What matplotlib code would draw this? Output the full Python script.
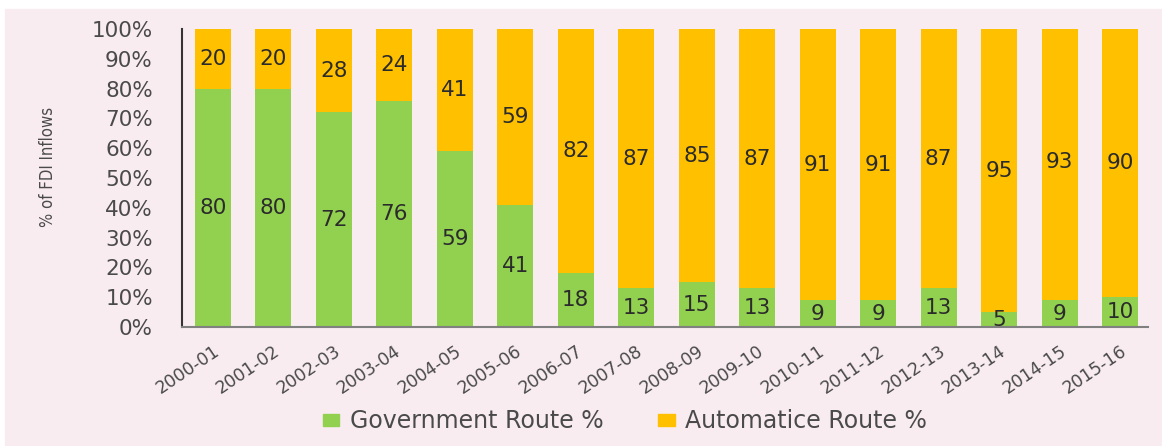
import matplotlib
matplotlib.use("Agg")
import matplotlib.pyplot as plt
from matplotlib.patches import Rectangle, Patch

years = ["2000-01", "2001-02", "2002-03", "2003-04", "2004-05", "2005-06",
         "2006-07", "2007-08", "2008-09", "2009-10", "2010-11", "2011-12",
         "2012-13", "2013-14", "2014-15", "2015-16"]
govt = [80, 80, 72, 76, 59, 41, 18, 13, 15, 13, 9, 9, 13, 5, 9, 10]
auto = [20, 20, 28, 24, 41, 59, 82, 87, 85, 87, 91, 91, 87, 95, 93, 90]
yticks = [0, 10, 20, 30, 40, 50, 60, 70, 80, 90, 100]

green = "#92d050"
orange = "#ffc000"
pink = "#f8ecf0"

fig = plt.figure(figsize=(11.62, 4.46), dpi=100, facecolor="white")
# pink chart area (white strip on top and left)
fig.patches.append(Rectangle((5 / 1162, 0), 1 - 5 / 1162, 1 - 9 / 446,
                             transform=fig.transFigure, color=pink, zorder=-5))

ax = fig.add_axes([182 / 1162, 1 - 327 / 446, (1148 - 182) / 1162, 298 / 446])
ax.patch.set_visible(False)

x = range(len(years))
ax.bar(x, govt, width=0.59, color=green)
ax.bar(x, auto, width=0.59, bottom=govt, color=orange)

for i in x:
    ax.text(i, govt[i] / 2, str(govt[i]), ha="center", va="center",
            fontsize=15.5, color="#2b2b2b")
    ax.text(i, govt[i] + auto[i] / 2, str(auto[i]), ha="center", va="center",
            fontsize=15.5, color="#2b2b2b")

ax.set_xlim(-0.51, 15.46)
ax.set_ylim(0, 100)
ax.set_yticks(yticks)
ax.set_yticklabels([f"{t}%" for t in yticks], fontsize=15.5, color="#4a4a4a")
ax.set_xticks(list(x))
ax.set_xticklabels(years, rotation=34, ha="right", va="top", rotation_mode="anchor",
                   fontsize=12.5, color="#4a4a4a")
ax.tick_params(axis="x", length=0, pad=11)
ax.tick_params(axis="y", length=0, pad=21)

for s in ["top", "right"]:
    ax.spines[s].set_visible(False)
ax.spines["left"].set_color("#333333")
ax.spines["bottom"].set_color("#808080")
ax.spines["left"].set_linewidth(1.5)
ax.spines["bottom"].set_linewidth(1.5)

fig.text(48 / 1162, 1 - 167 / 446, "% of FDI Inflows", rotation=90,
         ha="center", va="center", fontsize=12, color="#4a4a4a",
         fontstretch="condensed")

handles = [Patch(color=green, label="Government Route %"),
           Patch(color=orange, label="Automatice Route %")]
fig.legend(handles=handles, loc="center", bbox_to_anchor=(625 / 1162, 1 - 421 / 446),
           ncol=2, frameon=False, fontsize=17, handlelength=0.7, handleheight=0.4,
           handletextpad=0.45, columnspacing=2.3, labelcolor="#4a4a4a")

fig.savefig("out.png", dpi=100, facecolor=fig.get_facecolor())
